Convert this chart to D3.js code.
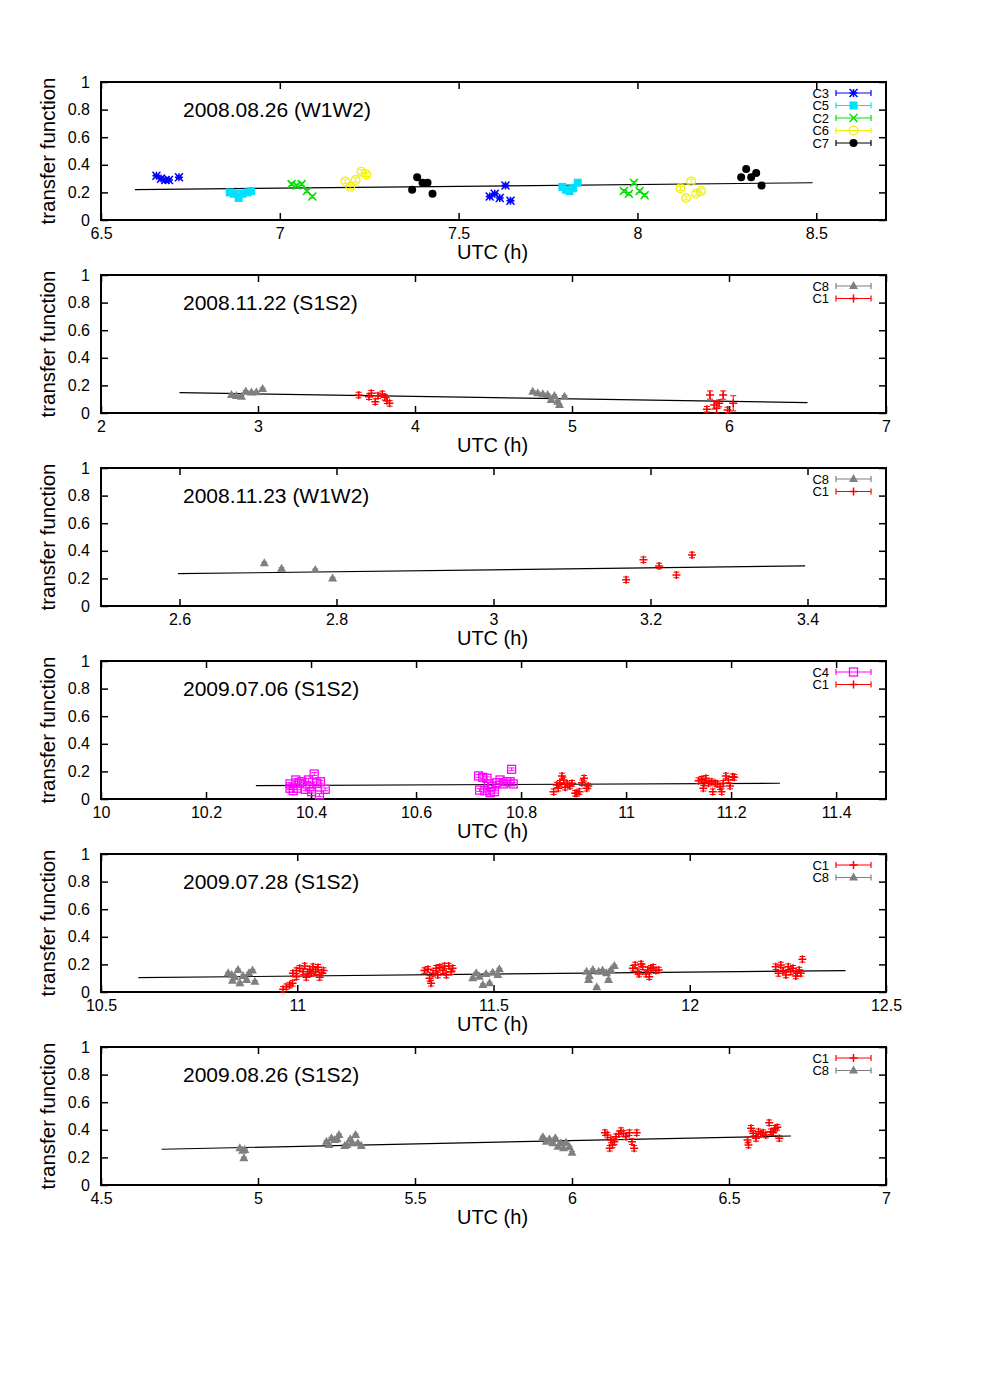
<!DOCTYPE html>
<html>
<head>
<meta charset="utf-8">
<script src="https://cdn.jsdelivr.net/npm/d3@7/dist/d3.min.js"></script>
<style>
body { margin: 0; background: #fff; }
text { font-family: "Liberation Sans", Arial, sans-serif; }
</style>
</head>
<body>
<script>
// ---- data ([UTC h, transfer function, optional error]) ----

// panel 1: 2008.08.26 (W1W2)
var p1C3 = [[6.655,0.32],[6.668,0.30],[6.68,0.29],[6.69,0.29],[6.718,0.31],
            [7.587,0.17],[7.601,0.19],[7.615,0.16],[7.631,0.25],[7.645,0.14]];
var p1C5 = [[6.86,0.20],[6.872,0.19],[6.885,0.16],[6.895,0.19],[6.91,0.20],[6.92,0.21],
            [7.79,0.24],[7.80,0.22],[7.81,0.21],[7.82,0.23],[7.833,0.27]];
var p1C2 = [[7.033,0.26],[7.047,0.25],[7.061,0.26],[7.076,0.21],[7.091,0.17],
            [7.962,0.21],[7.976,0.19],[7.99,0.27],[8.006,0.21],[8.02,0.18]];
var p1C6 = [[7.183,0.28],[7.197,0.24],[7.212,0.29],[7.228,0.35],[7.242,0.33],
            [8.12,0.23],[8.136,0.16],[8.15,0.28],[8.164,0.19],[8.178,0.21]];
var p1C7 = [[7.37,0.22],[7.384,0.31],[7.399,0.27],[7.413,0.27],[7.427,0.19],
            [8.29,0.31],[8.304,0.37],[8.318,0.31],[8.332,0.34],[8.347,0.25]];
var p1Fit = [[6.595,0.22],[8.49,0.27]];

// panel 2: 2008.11.22 (S1S2)
var p2C8 = [[2.831,0.13],[2.863,0.123],[2.895,0.118],[2.922,0.155],[2.958,0.148],[2.99,0.15],[3.029,0.174],
            [4.75,0.154],[4.782,0.143],[4.814,0.136],[4.845,0.13],[4.867,0.094],[4.888,0.123],[4.909,0.082],[4.92,0.058],[4.952,0.118]];
var p2C1 = [[3.641,0.13],[3.707,0.118],[3.722,0.143],[3.747,0.082],[3.764,0.125],[3.792,0.138],[3.807,0.114],[3.821,0.089],[3.838,0.07],
            [5.859,0.027,0.02],[5.879,0.13,0.03],[5.906,0.058,0.03],[5.921,0.034,0.04],[5.938,0.07,0.025],[5.963,0.13,0.03],
            [5.991,0.022,0.02],[6.027,0.07,0.055]];
var p2Fit = [[2.5,0.147],[6.5,0.075]];

// panel 3: 2008.11.23 (W1W2)
var p3C8 = [[2.708,0.31],[2.73,0.27],[2.773,0.26],[2.795,0.20]];
var p3C1 = [[3.169,0.19],[3.191,0.335],[3.211,0.29],[3.233,0.225],[3.253,0.37]];
var p3Fit = [[2.598,0.234],[3.397,0.291]];

// panel 4: 2009.07.06 (S1S2)
var p4C4 = [[10.36,0.109],[10.36,0.078],[10.366,0.06],[10.371,0.138],[10.373,0.078],[10.378,0.114],[10.382,0.125],
            [10.389,0.07],[10.395,0.138],[10.398,0.089],[10.401,0.053],[10.406,0.181],[10.411,0.114],[10.416,0.029],
            [10.418,0.125],[10.427,0.07],
            [10.719,0.167],[10.721,0.065],[10.727,0.157],[10.731,0.06],[10.735,0.15],[10.738,0.109],[10.741,0.046],
            [10.744,0.089],[10.749,0.053],[10.754,0.118],[10.76,0.138],[10.766,0.109],[10.773,0.125],[10.779,0.125],
            [10.782,0.215],[10.785,0.109]];
var p4C1 = [[10.862,0.053],[10.868,0.101],[10.871,0.078],[10.874,0.114],[10.878,0.167],[10.881,0.138],[10.884,0.085],
            [10.888,0.109],[10.893,0.094],[10.897,0.114],[10.903,0.041],[10.906,0.041],[10.911,0.053],[10.916,0.118],
            [10.92,0.15],[10.925,0.078],[10.928,0.094],
            [11.138,0.133],[11.144,0.143],[11.147,0.078],[11.149,0.118],[11.152,0.15],[11.157,0.114],[11.163,0.125],
            [11.165,0.053],[11.17,0.114],[11.174,0.109],[11.179,0.089],[11.182,0.053],[11.185,0.114],[11.19,0.167],
            [11.195,0.138],[11.198,0.094],[11.203,0.162],[11.206,0.157]];
var p4Fit = [[10.295,0.097],[11.293,0.114]];

// panel 5: 2009.07.28 (S1S2)
var p5C1 = [[10.964,0.02],[10.972,0.038],[10.981,0.05],[10.988,0.063],
            [10.989,0.135],[10.998,0.155],[10.998,0.111],[11.006,0.172],[11.015,0.147],[11.019,0.188],[11.023,0.106],
            [11.027,0.13],[11.032,0.164],[11.036,0.135],[11.04,0.183],[11.047,0.147],[11.053,0.179],[11.057,0.106],
            [11.062,0.14],[11.067,0.155],
            [11.324,0.155],[11.333,0.164],[11.337,0.099],[11.341,0.063],[11.346,0.135],[11.354,0.172],[11.358,0.123],
            [11.363,0.179],[11.371,0.155],[11.375,0.188],[11.38,0.123],[11.386,0.188],[11.392,0.147],[11.396,0.172],
            [11.855,0.172],[11.861,0.196],[11.867,0.147],[11.871,0.13],[11.876,0.203],[11.88,0.183],[11.889,0.13],
            [11.893,0.159],[11.897,0.111],[11.901,0.172],[11.907,0.179],[11.914,0.155],[11.921,0.159],
            [12.219,0.183],[12.226,0.135],[12.232,0.196],[12.238,0.155],[12.245,0.123],[12.251,0.183],[12.257,0.147],
            [12.263,0.172],[12.27,0.116],[12.274,0.135],[12.279,0.159],[12.283,0.135],[12.287,0.237]];
var p5C8 = [[10.824,0.135],[10.833,0.123],[10.835,0.082],[10.841,0.106],[10.849,0.159],[10.854,0.063],[10.862,0.116],
            [10.871,0.087],[10.877,0.135],[10.886,0.155],[10.892,0.075],
            [11.447,0.099],[11.456,0.135],[11.464,0.111],[11.473,0.051],[11.481,0.13],[11.49,0.063],[11.498,0.14],
            [11.511,0.123],[11.515,0.164],
            [11.737,0.147],[11.742,0.087],[11.744,0.116],[11.753,0.159],[11.763,0.034],[11.768,0.147],[11.778,0.155],
            [11.788,0.135],[11.793,0.087],[11.799,0.159],[11.808,0.188]];
var p5Fit = [[10.595,0.104],[12.397,0.155]];

// panel 6: 2009.08.26 (S1S2)
var p6C1 = [[6.105,0.379],[6.113,0.362],[6.12,0.266],[6.124,0.326],[6.129,0.29],[6.135,0.314],[6.14,0.35],[6.149,0.37],
            [6.156,0.394],[6.164,0.375],[6.172,0.35],[6.183,0.379],[6.191,0.314],[6.198,0.266],[6.206,0.379],
            [6.559,0.326],[6.562,0.29],[6.57,0.411],[6.577,0.375],[6.586,0.338],[6.594,0.386],[6.601,0.37],[6.609,0.379],
            [6.617,0.362],[6.628,0.451],[6.633,0.386],[6.641,0.379],[6.647,0.411],[6.654,0.418],[6.66,0.338]];
var p6C8 = [[4.942,0.266],[4.951,0.249],[4.955,0.194],[4.958,0.254],
            [5.218,0.314],[5.226,0.29],[5.234,0.338],[5.244,0.326],[5.252,0.331],[5.258,0.362],[5.276,0.283],[5.283,0.29],
            [5.294,0.331],[5.3,0.302],[5.311,0.362],[5.318,0.302],[5.329,0.283],
            [5.907,0.346],[5.918,0.314],[5.928,0.331],[5.939,0.302],[5.947,0.338],[5.955,0.278],[5.965,0.302],[5.973,0.266],
            [5.981,0.307],[5.992,0.273],[6.0,0.234]];
var p6Fit = [[4.693,0.259],[6.697,0.355]];

var titles = ["2008.08.26 (W1W2)", "2008.11.22 (S1S2)", "2008.11.23 (W1W2)",
              "2009.07.06 (S1S2)", "2009.07.28 (S1S2)", "2009.08.26 (S1S2)"];
var xDomains = [[6.5, 8.695], [2, 7], [2.5, 3.5], [10, 11.495], [10.5, 12.5], [4.5, 7]];
var xTicks = [[6.5, 7, 7.5, 8, 8.5], [2, 3, 4, 5, 6, 7], [2.6, 2.8, 3, 3.2, 3.4],
              [10, 10.2, 10.4, 10.6, 10.8, 11, 11.2, 11.4], [10.5, 11, 11.5, 12, 12.5],
              [4.5, 5, 5.5, 6, 6.5, 7]];
var yTicks = [0, 0.2, 0.4, 0.6, 0.8, 1];

// default errors, small and roughly constant per series
var errC = { C1: 0.02, C2: 0.01, C3: 0.01, C4: 0.01, C5: 0.01, C6: 0.015, C7: 0.01, C8: 0.008 };

var style = {
  C3: { color: "#0000ff", mark: "star" },
  C5: { color: "#00e0ff", mark: "sqfill" },
  C2: { color: "#00e000", mark: "x" },
  C6: { color: "#f0f000", mark: "circle" },
  C7: { color: "#000000", mark: "dot" },
  C8: { color: "#7f7f7f", mark: "tri" },
  C1: { color: "#ff0000", mark: "plus" },
  C4: { color: "#ff00ff", mark: "sq" }
};

var panels = [
  { series: [["C3", p1C3], ["C5", p1C5], ["C2", p1C2], ["C6", p1C6], ["C7", p1C7]], fit: p1Fit },
  { series: [["C8", p2C8], ["C1", p2C1]], fit: p2Fit },
  { series: [["C8", p3C8], ["C1", p3C1]], fit: p3Fit },
  { series: [["C4", p4C4], ["C1", p4C1]], fit: p4Fit },
  { series: [["C1", p5C1], ["C8", p5C8]], fit: p5Fit },
  { series: [["C1", p6C1], ["C8", p6C8]], fit: p6Fit }
];

var width = 984, height = 1378;
var left = 101, right = 886, ph = 138, top0 = 82, step = 193;

var svg = d3.select("body").append("svg")
  .attr("width", width).attr("height", height);

function marker(g, type, x, y, color) {
  var s = 4;
  if (type == "star" || type == "plus" || type == "x") {
    var p = "";
    if (type != "x") p += "M" + (x - s) + "," + y + "h" + 2 * s + "M" + x + "," + (y - s) + "v" + 2 * s;
    if (type != "plus") p += "M" + (x - s) + "," + (y - s) + "l" + 2 * s + "," + 2 * s + "M" + (x - s) + "," + (y + s) + "l" + 2 * s + "," + (-2 * s);
    g.append("path").attr("d", p).attr("stroke", color).attr("stroke-width", 1.5).attr("fill", "none");
  } else if (type == "sqfill") {
    g.append("rect").attr("x", x - 4).attr("y", y - 4).attr("width", 8).attr("height", 8).attr("fill", color);
  } else if (type == "sq") {
    g.append("rect").attr("x", x - 4).attr("y", y - 4).attr("width", 8).attr("height", 8)
      .attr("fill", "none").attr("stroke", color).attr("stroke-width", 1.3);
  } else if (type == "circle") {
    g.append("circle").attr("cx", x).attr("cy", y).attr("r", 4.3)
      .attr("fill", "none").attr("stroke", color).attr("stroke-width", 1.3);
  } else if (type == "dot") {
    g.append("circle").attr("cx", x).attr("cy", y).attr("r", 4).attr("fill", color);
  } else if (type == "tri") {
    g.append("path").attr("d", "M" + x + "," + (y - 5) + "L" + (x + 4.5) + "," + (y + 3) + "L" + (x - 4.5) + "," + (y + 3) + "Z")
      .attr("fill", color);
  }
}

panels.forEach(function (pn, i) {
  var top = top0 + i * step;
  var x = d3.scaleLinear().domain(xDomains[i]).range([left, right]);
  var y = d3.scaleLinear().domain([0, 1]).range([top + ph, top]);
  var g = svg.append("g");

  // axes, ticks inward, mirrored
  g.append("g").attr("transform", "translate(0," + (top + ph) + ")")
    .call(d3.axisBottom(x).tickValues(xTicks[i]).tickSize(-7).tickPadding(8).tickFormat(d3.format("")));
  g.append("g").attr("transform", "translate(0," + top + ")")
    .call(d3.axisTop(x).tickValues(xTicks[i]).tickSize(-7).tickFormat(""));
  g.append("g").attr("transform", "translate(" + left + ",0)")
    .call(d3.axisLeft(y).tickValues(yTicks).tickSize(-7).tickPadding(11).tickFormat(d3.format("")));
  g.append("g").attr("transform", "translate(" + right + ",0)")
    .call(d3.axisRight(y).tickValues(yTicks).tickSize(-7).tickFormat(""));
  g.selectAll(".domain").remove();
  g.selectAll(".tick line").attr("stroke", "#000").attr("stroke-width", 1.5);
  g.selectAll(".tick text").attr("font-size", 16).attr("fill", "#000")
    .style("font-family", "'Liberation Sans', Arial, sans-serif");

  g.append("rect").attr("x", left).attr("y", top).attr("width", right - left).attr("height", ph)
    .attr("fill", "none").attr("stroke", "#000").attr("stroke-width", 2);

  g.append("text").attr("x", 47).attr("y", top + ph / 2)
    .attr("transform", "rotate(-90,47," + (top + ph / 2) + ")")
    .attr("text-anchor", "middle").attr("dominant-baseline", "central")
    .attr("font-size", 20.5).text("transfer function");
  g.append("text").attr("x", (left + right) / 2 - 1).attr("y", top + ph + 39)
    .attr("text-anchor", "middle").attr("font-size", 20).text("UTC (h)");
  g.append("text").attr("x", 183).attr("y", top + 35)
    .attr("font-size", 21).text(titles[i]);

  // fit line
  g.append("path").datum(pn.fit)
    .attr("d", d3.line().x(function (d) { return x(d[0]); }).y(function (d) { return y(d[1]); }))
    .attr("stroke", "#000").attr("stroke-width", 1.2).attr("fill", "none");

  // data with error bars
  pn.series.forEach(function (s, k) {
    var st = style[s[0]];
    var sg = g.append("g");
    s[1].forEach(function (d) {
      var e = d.length > 2 ? d[2] : errC[s[0]];
      var cx = x(d[0]), y1 = y(Math.max(0, d[1] - e)), y2 = y(d[1] + e);
      sg.append("path").attr("d", "M" + cx + "," + y1 + "V" + y2 + "M" + (cx - 3) + "," + y1 + "h6M" + (cx - 3) + "," + y2 + "h6")
        .attr("stroke", st.color).attr("stroke-width", 1).attr("fill", "none");
      marker(sg, st.mark, cx, y(d[1]), st.color);
    });

    // legend entry
    var ly = top + 11 + k * 12.5;
    g.append("text").attr("x", 829).attr("y", ly).attr("text-anchor", "end")
      .attr("dominant-baseline", "central").attr("font-size", 13).text(s[0]);
    g.append("path").attr("d", "M836," + ly + "H871M836," + (ly - 3) + "v6M871," + (ly - 3) + "v6")
      .attr("stroke", st.color).attr("stroke-width", 1.2).attr("fill", "none");
    marker(g, st.mark, 853.5, ly, st.color);
  });
});
</script>
</body>
</html>
